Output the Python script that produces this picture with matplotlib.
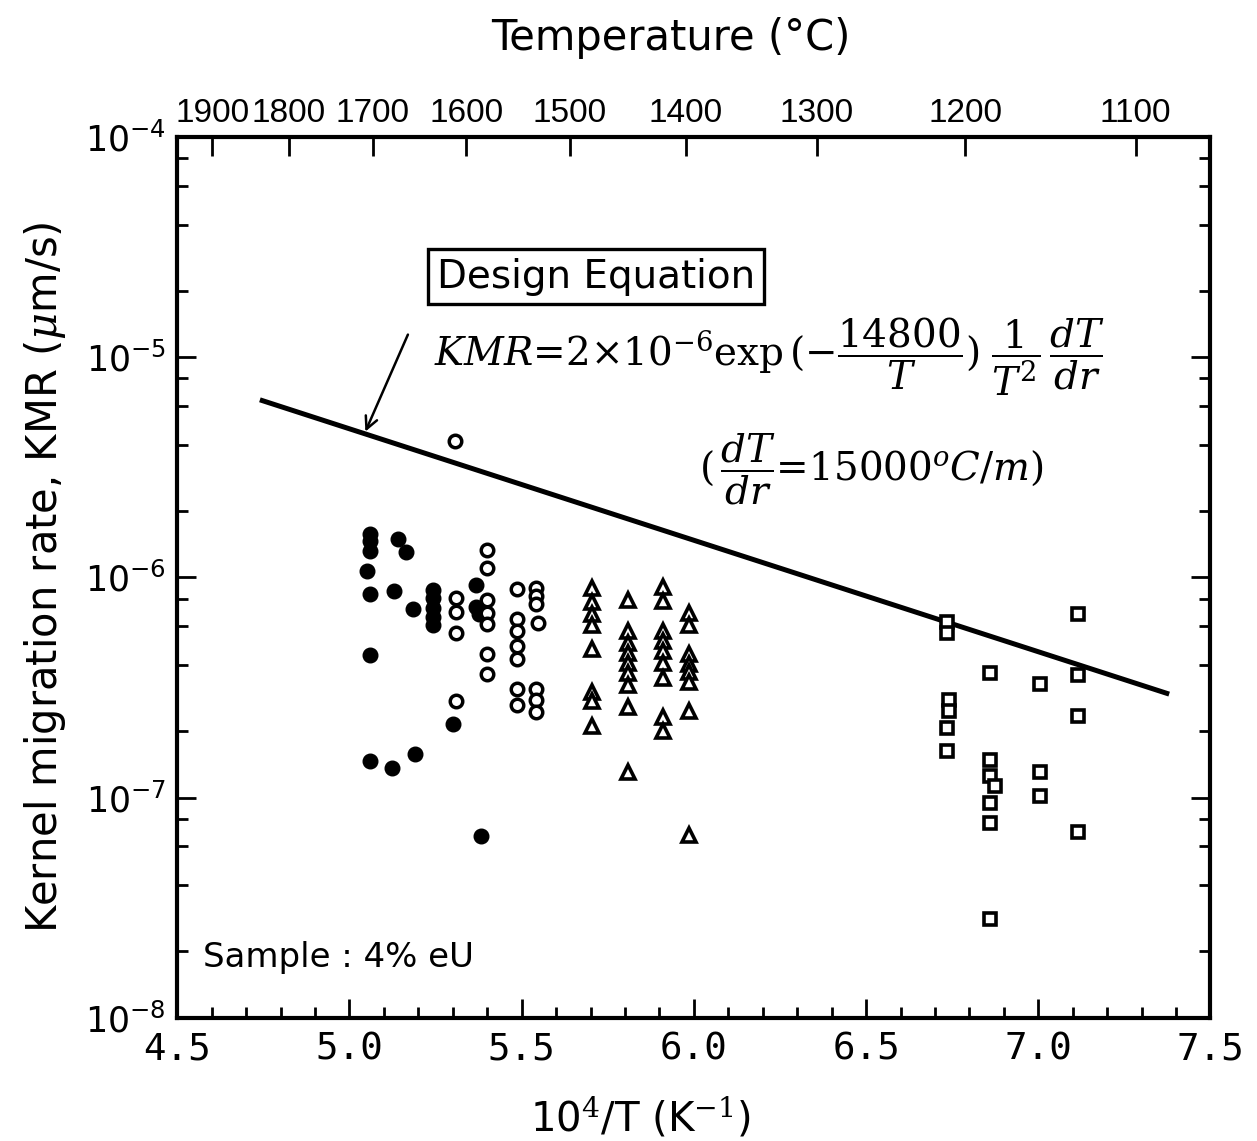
import numpy as np
import matplotlib.pyplot as plt
from matplotlib.ticker import LogLocator, MultipleLocator, NullFormatter

# 10^4/T (1/K) and kernel migration rate (um/s) per data group
x_filled = [5.06, 5.06, 5.06, 5.05, 5.06, 5.06, 5.06,
            5.14, 5.165, 5.13, 5.125, 5.184, 5.19,
            5.244, 5.244, 5.244, 5.244, 5.244, 5.30,
            5.367, 5.367, 5.375, 5.382]
y_filled = [1.58e-6, 1.46e-6, 1.32e-6, 1.07e-6, 8.4e-7, 4.46e-7, 1.47e-7,
            1.5e-6, 1.30e-6, 8.65e-7, 1.36e-7, 7.2e-7, 1.58e-7,
            8.8e-7, 8.07e-7, 7.26e-7, 6.6e-7, 6.07e-7, 2.15e-7,
            9.2e-7, 7.3e-7, 6.85e-7, 6.7e-8]

x_open = [5.306, 5.308, 5.308, 5.308, 5.308,
          5.40, 5.40, 5.40, 5.40, 5.40, 5.40, 5.40,
          5.486, 5.486, 5.486, 5.486, 5.486, 5.486, 5.486,
          5.542, 5.542, 5.542, 5.548, 5.542, 5.542, 5.542]
y_open = [4.14e-6, 8.05e-7, 6.95e-7, 5.57e-7, 2.74e-7,
          1.33e-6, 1.1e-6, 7.85e-7, 6.9e-7, 6.15e-7, 4.5e-7, 3.63e-7,
          8.87e-7, 6.45e-7, 5.7e-7, 4.86e-7, 4.28e-7, 3.12e-7, 2.63e-7,
          8.95e-7, 8.2e-7, 7.6e-7, 6.2e-7, 3.11e-7, 2.77e-7, 2.44e-7]

x_tri = [5.703] * 8 + [5.808] * 9 + [5.91] * 9 + [5.986] * 8
y_tri = [8.9e-7, 7.76e-7, 6.84e-7, 6.09e-7, 4.72e-7, 3.0e-7, 2.75e-7, 2.11e-7,
         7.9e-7, 5.73e-7, 5.05e-7, 4.54e-7, 4.08e-7, 3.67e-7, 3.24e-7, 2.59e-7, 1.3e-7,
         9.0e-7, 7.8e-7, 5.7e-7, 5.14e-7, 4.62e-7, 4.07e-7, 3.48e-7, 2.33e-7, 2.01e-7,
         6.9e-7, 6.07e-7, 4.5e-7, 4.06e-7, 3.73e-7, 3.36e-7, 2.47e-7, 6.75e-8]

x_sq = [6.734, 6.734, 6.74, 6.74, 6.734, 6.734,
        6.86, 6.86, 6.86, 6.875, 6.86, 6.86, 6.86,
        7.006, 7.006, 7.006,
        7.114, 7.114, 7.114, 7.114]
y_sq = [6.3e-7, 5.56e-7, 2.76e-7, 2.48e-7, 2.07e-7, 1.63e-7,
        3.66e-7, 1.48e-7, 1.25e-7, 1.13e-7, 9.4e-8, 7.7e-8, 2.8e-8,
        3.27e-7, 1.31e-7, 1.02e-7,
        6.8e-7, 3.6e-7, 2.34e-7, 7.0e-8]

# design equation line, end points
x_design = [4.74, 7.38]
y_design = [6.4e-6, 2.95e-7]

temps_c = [1900, 1800, 1700, 1600, 1500, 1400, 1300, 1200, 1100]

plt.rcParams['mathtext.fontset'] = 'dejavuserif'

fig = plt.figure(figsize=(12.57, 11.41), dpi=100)
ax = fig.add_axes([0.141, 0.108, 0.822, 0.772])

ax.plot(x_design, y_design, color='black', lw=3.6, solid_capstyle='butt')
ax.plot(x_filled, y_filled, 'o', color='black', ms=10.5, ls='none')
ax.plot(x_open, y_open, 'o', mfc='white', mec='black', mew=2.5, ms=9, ls='none')
ax.plot(x_tri, y_tri, '^', mfc='white', mec='black', mew=2.6, ms=10, ls='none')
ax.plot(x_sq, y_sq, 's', mfc='white', mec='black', mew=2.6, ms=9, ls='none')

ax.set_yscale('log')
ax.set_xlim(4.5, 7.5)
ax.set_ylim(1e-8, 1e-4)

ax.xaxis.set_major_locator(MultipleLocator(0.5))
ax.xaxis.set_minor_locator(MultipleLocator(0.1))
ax.yaxis.set_major_locator(LogLocator(base=10))
ax.yaxis.set_minor_locator(LogLocator(base=10, subs=[2, 4, 6, 8]))
ax.yaxis.set_minor_formatter(NullFormatter())
ax.set_xticks([4.5, 5.0, 5.5, 6.0, 6.5, 7.0, 7.5])
ax.set_xticklabels(['4.5', '5.0', '5.5', '6.0', '6.5', '7.0', '7.5'],
                   family='DejaVu Sans Mono', fontsize=27)

ax.tick_params(which='both', direction='in', top=False, right=True, width=2)
ax.tick_params(which='major', length=14, pad=8)
ax.tick_params(axis='y', which='major', labelsize=25)
ax.tick_params(which='minor', length=8)
ax.tick_params(axis='x', which='major', pad=10)
for sp in ax.spines.values():
    sp.set_linewidth(3)

ax.set_xlabel(r'10$^4$/T (K$^{-1}$)', fontsize=29)
ax.xaxis.set_label_coords(0.448, -0.088)
ax.set_ylabel(r'Kernel migration rate, KMR ($\mu$m/s)', fontsize=30)
ax.yaxis.set_label_coords(-0.106, 0.5)

# temperature scale along the top
ax2 = ax.twiny()
ax2.set_xlim(ax.get_xlim())
ax2.set_xticks([1e4 / (t + 273.15) for t in temps_c])
ax2.set_xticklabels([str(t) for t in temps_c], family='Liberation Sans', fontsize=24)
ax2.tick_params(direction='in', length=14, width=2, pad=6)
ax2.xaxis.set_minor_locator(plt.NullLocator())
ax2.set_xlabel('Temperature (°C)', fontsize=30)
ax2.xaxis.set_label_coords(0.478, 1.099)

ax.text(5.716, 2.32e-5, 'Design Equation', fontsize=28, ha='center', va='center',
        bbox=dict(boxstyle='square,pad=0.22', fc='white', ec='black', lw=2.4))
ax.text(5.245, 1.0e-5,
        r'$\mathit{KMR}$=2$\times$10$^{-6}$exp$\,(-\dfrac{14800}{T})\;\dfrac{1}{T^2}\,\dfrac{dT}{dr}$',
        fontsize=28, ha='left', va='center', family='DejaVu Serif')
ax.text(6.015, 3.1e-6, r'$(\,\dfrac{dT}{dr}$=15000$^o C/m)$',
        fontsize=28, ha='left', va='center', family='DejaVu Serif')
ax.annotate('', xy=(5.043, 4.47e-6), xytext=(5.173, 1.30e-5),
            arrowprops=dict(arrowstyle='->', color='black', lw=1.8, mutation_scale=22))
ax.text(4.576, 1.87e-8, 'Sample : 4% eU', fontsize=24.5, ha='left', va='center')

fig.savefig('out.png', dpi=100)
